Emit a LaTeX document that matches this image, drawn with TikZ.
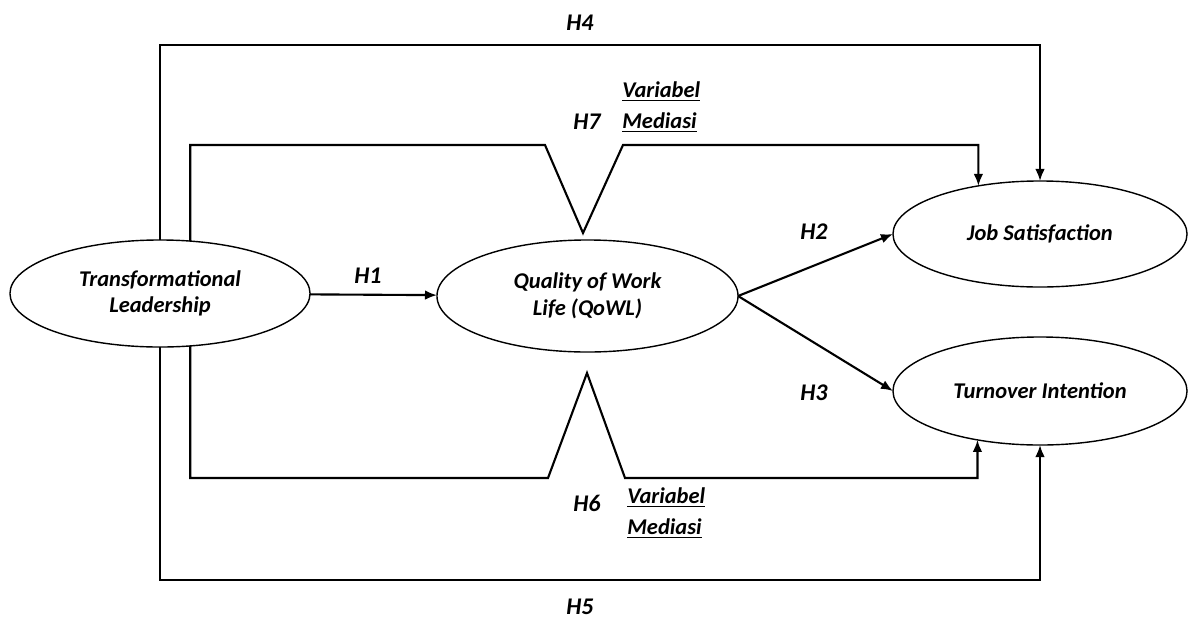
\documentclass[tikz,border=0pt]{standalone}
\usepackage{fontspec}
\setmainfont{Carlito}
\usetikzlibrary{arrows.meta,positioning,calc,shapes.geometric}

\begin{document}
\begin{tikzpicture}[x=0.025cm, y=-0.025cm,
    var/.style={ellipse, draw=black, line width=1pt, inner sep=0pt, outer sep=0pt, align=center, font=\fontsize{16}{19}\selectfont\bfseries\itshape},
    conn/.style={line width=1.5pt, -{Latex[length=3mm,width=2.4mm]}},
    hyp/.style={inner sep=0pt, font=\fontsize{17}{20}\selectfont\bfseries\itshape},
    med/.style={inner sep=0pt, anchor=west, align=left, font=\fontsize{16}{22}\selectfont\bfseries\itshape}]
  \useasboundingbox (0,0) rectangle (1188,619);

  % variables
  \node[var, minimum width=7.5cm, minimum height=2.675cm] (tl) at (160,293.5) {Transformational\\Leadership};
  \node[var, minimum width=7.525cm, minimum height=2.8cm] (qwl) at (587.5,296) {Quality of Work\\Life (QoWL)};
  \node[var, minimum width=7.35cm, minimum height=2.65cm] (js) at (1040,234) {Job Satisfaction};
  \node[var, minimum width=7.35cm, minimum height=2.7cm] (ti) at (1040,391) {Turnover Intention};

  % bends of the long paths
  \coordinate (top) at (600,45);
  \coordinate (bot) at (600,580);
  \coordinate (v7l) at (545,145);
  \coordinate (v7) at (583,233);
  \coordinate (v7r) at (623,145);
  \coordinate (v6l) at (548,478);
  \coordinate (v6) at (587,373);
  \coordinate (v6r) at (625,478);

  % paths
  \draw[conn] (tl) -- (qwl);
  \draw[conn] (qwl.east) -- (js.west);
  \draw[conn] (qwl.east) -- (ti.west);
  \draw[conn] (tl.north) |- (top) -| (js.north);
  \draw[conn] (tl.south) |- (bot) -| (ti.south);
  \draw[conn] (tl.60) |- (v7l) -- (v7) -- (v7r) -| (js.142);
  \draw[conn] (tl.-60) |- (v6l) -- (v6) -- (v6r) -| (ti.218);

  % labels
  \node[hyp] (h1) at (368,276) {H1};
  \node[hyp] (h2) at (814,232) {H2};
  \node[hyp] (h3) at (814,393) {H3};
  \node[hyp] (h4) at (580,23) {H4};
  \node[hyp] (h5) at (580,607) {H5};
  \node[hyp] (h6) at (587,503) {H6};
  \node[hyp] (h7) at (587,122) {H7};
  \node[med] (m7) at (622,107) {\underline{Variabel}\\\underline{Mediasi}};
  \node[med] (m6) at (627,513) {\underline{Variabel}\\\underline{Mediasi}};
\end{tikzpicture}
\end{document}
